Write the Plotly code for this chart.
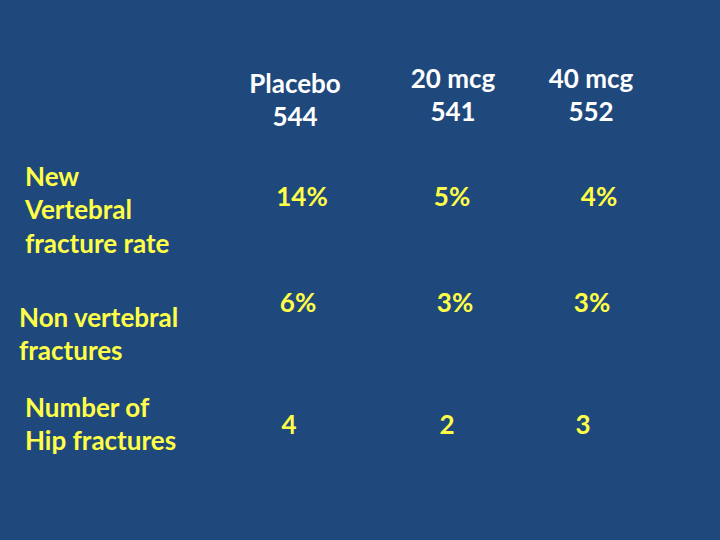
import plotly.graph_objects as go

# Dữ liệu bảng
groups = ["Placebo", "20 mcg", "40 mcg"]
group_n = ["544", "541", "552"]
row_labels = ["New<br>Vertebral<br>fracture rate", "Non vertebral<br>fractures", "Number of<br>Hip fractures"]
values = [
    ["14%", "5%", "4%"],
    ["6%", "3%", "3%"],
    ["4", "2", "3"],
]

# Vị trí (pixel trên slide 720x540)
head_x = [295, 453, 591]
head_y = [103, 98, 98]
label_x = [25, 19, 25]
label_y = [213, 337, 427]
cell_x = [[302, 452, 599], [298, 455, 592], [289, 447, 583]]
cell_y = [199, 305, 427]

bg = "#1F497D"
yellow = "#FFFF47"
font = "Lato"
fsize = 26

fig = go.Figure()

fig.add_trace(go.Scatter(
    x=head_x, y=head_y, mode="text",
    text=[f"<b>{g}<br>{n}</b>" for g, n in zip(groups, group_n)],
    textposition="middle center",
    textfont=dict(family=font, size=fsize, color="white"),
    hoverinfo="skip", showlegend=False))

fig.add_trace(go.Scatter(
    x=label_x, y=label_y, mode="text",
    text=[f"<b>{t}</b>" for t in row_labels], textposition="middle right",
    textfont=dict(family=font, size=fsize, color=yellow),
    hoverinfo="skip", showlegend=False))

for i, row in enumerate(values):
    fig.add_trace(go.Scatter(
        x=cell_x[i], y=[cell_y[i]] * len(row), mode="text",
        text=[f"<b>{v}</b>" for v in row], textposition="middle center",
        textfont=dict(family=font, size=fsize, color=yellow),
        hoverinfo="skip", showlegend=False))

fig.update_layout(
    width=720, height=540,
    margin=dict(l=0, r=0, t=0, b=0),
    paper_bgcolor=bg, plot_bgcolor=bg,
    xaxis=dict(range=[0, 720], visible=False, fixedrange=True),
    yaxis=dict(range=[540, 0], visible=False, fixedrange=True),
)

fig.write_html("out.html", config={"displayModeBar": False},
               post_script="document.body.style.margin='0';document.body.style.background='%s';" % bg)
